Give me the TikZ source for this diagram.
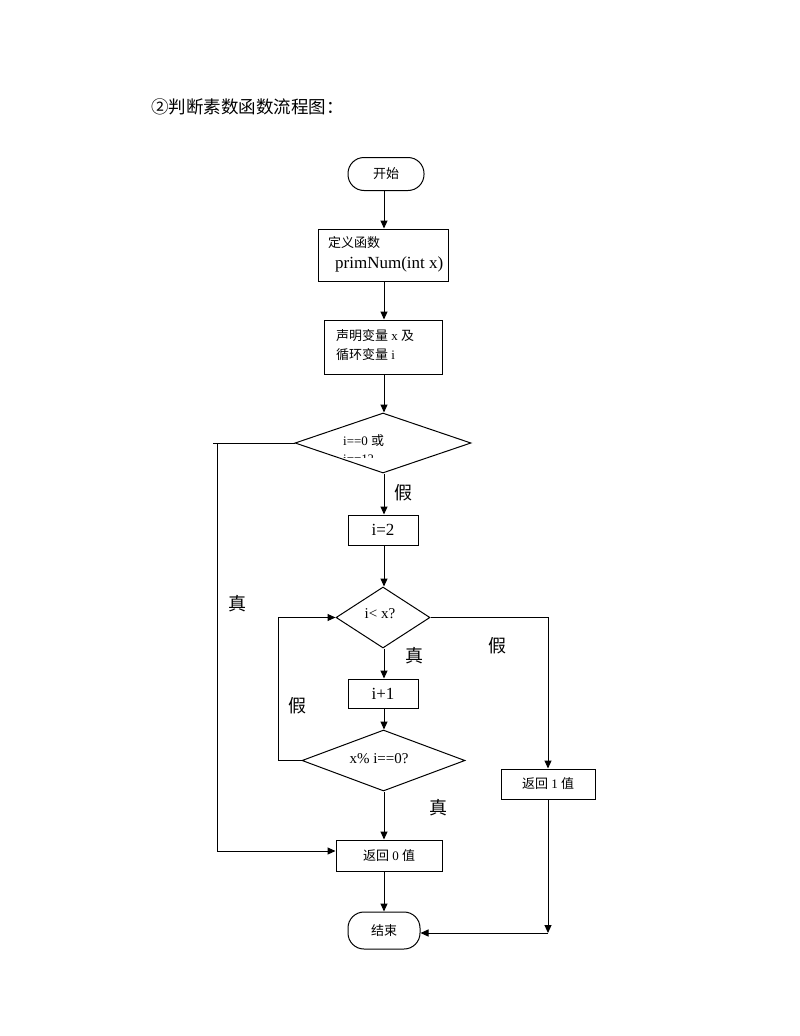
\documentclass[tikz,border=0pt]{standalone}
\usepackage{fontspec}
\setmainfont{Liberation Serif}
\newfontfamily\cjk{Noto Sans CJK SC}
\usetikzlibrary{shapes.geometric,arrows.meta}
\begin{document}
\begin{tikzpicture}[x=1pt,y=-1pt,
  every node/.style={inner sep=0pt},
  box/.style={draw, line width=1pt, inner sep=0pt},
  term/.style={draw, line width=1pt, rounded corners=16pt, inner sep=0pt},
  dia/.style={draw, diamond, line width=1pt, inner sep=0pt, aspect=1},
  ln/.style={line width=1pt},
  arr/.style={line width=1pt, -{Triangle[length=8pt,width=7pt]}},
  zh/.style={font=\cjk\fontsize{13}{15}\selectfont},
  sm/.style={font=\fontsize{13}{15}\selectfont},
  smq/.style={font=\fontsize{15}{17}\selectfont},
  mid/.style={font=\fontsize{17}{19}\selectfont},
  big/.style={font=\cjk\fontsize{18}{20}\selectfont},
]
\useasboundingbox[fill=white] (0,0) rectangle (800,1036);

% title
\node[anchor=west, font=\cjk\fontsize{17.5}{20}\selectfont] (title) at (151,107) {②判断素数函数流程图：};

% nodes
\node[term, minimum width=76pt, minimum height=33pt, zh] (start) at (386,174) {开始};
\node[box, minimum width=130pt, minimum height=52pt] (def) at (383,255) {};
\node[zh, anchor=west] (deft) at (328,243) {定义函数};
\node[mid, anchor=west] (defp) at (335,264) {primNum(int x)};

\node[box, minimum width=118pt, minimum height=54pt] (decl) at (383,347) {};
\node[sm, anchor=west] (declt1) at (336,336) {{\cjk 声明变量} x {\cjk 及}};
\node[sm, anchor=west] (declt2) at (336,355) {{\cjk 循环变量} i};

\node[dia, minimum width=176pt, minimum height=60pt] (d1) at (383,443) {};
\node[sm, anchor=west] (d1t) at (343,441) {i==0 {\cjk 或}};
\begin{scope}
  \clip (330,450) rectangle (420,457.5);
  \node[sm, anchor=west] (d1t2) at (343,459) {i==1?};
\end{scope}

\node[box, minimum width=70pt, minimum height=30pt, mid] (i2) at (383,530) {i=2};

\node[dia, minimum width=94pt, minimum height=61pt] (d2) at (383,617.5) {};
\node[smq] (d2t) at (380,614) {i< x?};

\node[box, minimum width=70pt, minimum height=29pt, mid] (inc) at (383,693.5) {i+1};

\node[dia, minimum width=163pt, minimum height=61pt] (d3) at (383.5,760.5) {};
\node[smq] (d3t) at (379,759) {x\% i==0?};

\node[box, minimum width=106pt, minimum height=31pt, sm] (ret0) at (389,855.5) {{\cjk 返回} 0 {\cjk 值}};
\node[box, minimum width=94pt, minimum height=30pt, sm] (ret1) at (548,784) {{\cjk 返回} 1 {\cjk 值}};
\node[term, minimum width=72pt, minimum height=37pt, zh] (end) at (384,930.5) {结束};

% helper coordinates
\coordinate (c1a) at (213,443);
\coordinate (c1b) at (217,443);
\coordinate (c1c) at (217,851);
\coordinate (c2a) at (548,617.5);
\coordinate (c3a) at (278,760.5);
\coordinate (c3b) at (278,617.5);
\coordinate (c4a) at (548,933);

% connectors
\draw[arr] (start.south -| 384,0) -- (def.north -| 384,0);
\draw[arr] (def.south -| 384,0) -- (decl.north -| 384,0);
\draw[arr] (decl.south -| 384,0) -- (d1.north -| 384,0);
\draw[arr] (d1.south -| 384,0) -- (i2.north -| 384,0);
\draw[arr] (i2.south -| 384,0) -- (d2.north -| 384,0);
\draw[arr] (d2.south -| 384,0) -- (inc.north -| 384,0);
\draw[arr] (inc.south -| 384,0) -- (d3.north -| 384,0);
\draw[arr] (d3.south -| 384,0) -- (ret0.north -| 384,0);
\draw[arr] (ret0.south -| 384,0) -- (end.north -| 384,0);

\draw[ln] (d1.west) -- (c1a);
\draw[arr] (c1b) -- (c1c) -- (ret0.west |- c1c);

\draw[arr] (d2.east) -- (c2a) -- (ret1.north);
\draw[arr] (d3.west) -- (c3a) -- (c3b) -- (d2.west);
\draw[arr] (ret1.south) -- (c4a);
\draw[arr] (c4a) -- (end.east |- c4a);

% labels
\node[big] (lt1) at (237,604) {真};
\node[big] (lf1) at (403,493) {假};
\node[big] (lf2) at (497,646) {假};
\node[big] (lt2) at (414,656) {真};
\node[big] (lf3) at (297,706) {假};
\node[big] (lt3) at (438,808) {真};
\end{tikzpicture}
\end{document}
